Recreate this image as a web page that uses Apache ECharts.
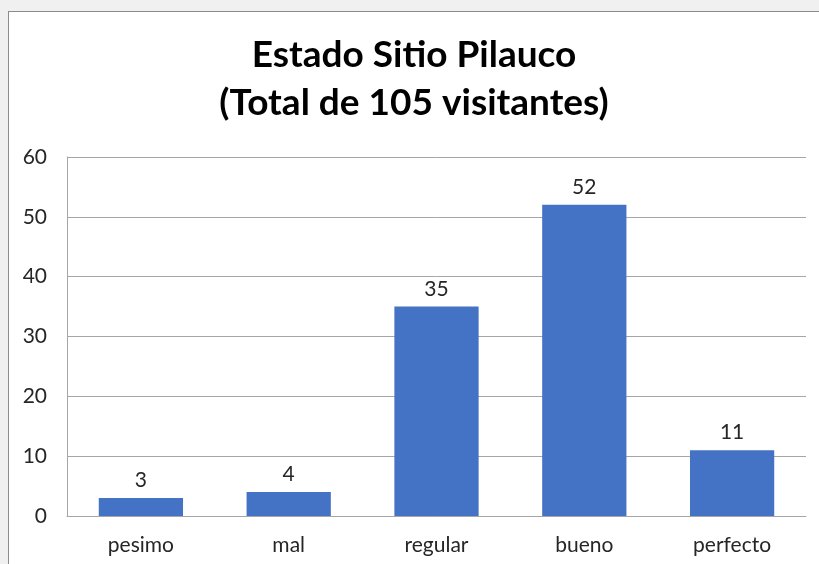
<!DOCTYPE html>
<html>
<head>
<meta charset="utf-8">
<script src="https://cdn.jsdelivr.net/npm/echarts@6/dist/echarts.min.js"></script>
<style>
  html, body { margin: 0; padding: 0; background: #f0f0f0; overflow: hidden; }
  #frame {
    position: absolute; left: 8px; top: 11px;
    width: 810px; height: 552px;
    background: #ffffff;
    border-left: 1px solid #8c8c8c; border-top: 1px solid #8c8c8c;
  }
  #chart { width: 810px; height: 552px; }
</style>
</head>
<body>
<div id="frame"><div id="chart"></div></div>
<script>
// datos del grafico
var categorias = ["pesimo", "mal", "regular", "bueno", "perfecto"];
var visitantes = [3, 4, 35, 52, 11];
var titulo = "Estado Sitio Pilauco\n(Total de 105 visitantes)";

var myChart = echarts.init(document.getElementById("chart"));
myChart.setOption({
  animation: false,
  title: {
    text: titulo,
    left: "center",
    top: 14,
    textStyle: {
      fontFamily: "Lato",
      fontWeight: "bold",
      fontSize: 37,
      lineHeight: 48,
      color: "#000000"
    }
  },
  grid: { left: 58, right: 13, top: 145, bottom: 48 },
  xAxis: {
    type: "category",
    data: categorias,
    axisLine: { lineStyle: { color: "#a6a6a6", width: 1 } },
    axisTick: { show: false },
    axisLabel: { color: "#262626", fontSize: 21, fontFamily: "Lato", margin: 19 }
  },
  yAxis: {
    type: "value",
    min: 0,
    max: 60,
    interval: 10,
    axisLine: { show: true, lineStyle: { color: "#a6a6a6", width: 1 } },
    axisTick: { show: false },
    splitLine: { lineStyle: { color: "#a6a6a6", width: 1 } },
    axisLabel: { color: "#262626", fontSize: 21, fontFamily: "Lato", margin: 20 }
  },
  series: [
    {
      type: "bar",
      data: visitantes,
      barWidth: "57%",
      itemStyle: { color: "#4472c4" },
      label: {
        show: true,
        position: "top",
        distance: 7,
        color: "#262626",
        fontSize: 21,
        fontFamily: "Lato"
      }
    }
  ]
});
</script>
</body>
</html>
